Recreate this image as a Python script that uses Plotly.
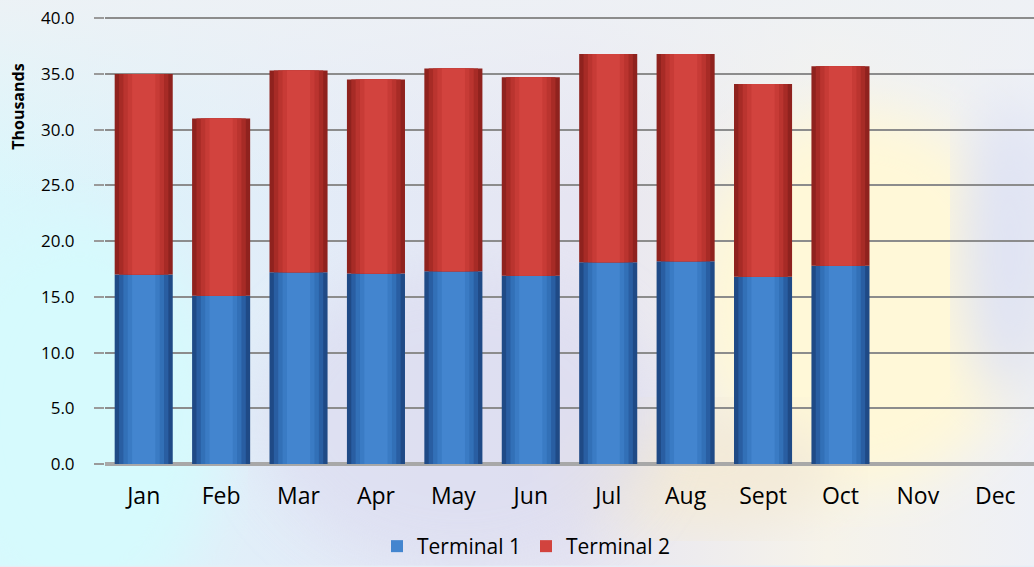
import base64
import plotly.graph_objects as go

months = ["Jan", "Feb", "Mar", "Apr", "May", "Jun", "Jul", "Aug", "Sept", "Oct", "Nov", "Dec"]
terminal_1 = [17.0, 15.1, 17.2, 17.1, 17.3, 16.9, 18.1, 18.2, 16.8, 17.8, None, None]
terminal_2 = [18.0, 15.9, 18.1, 17.4, 18.2, 17.8, 18.7, 18.6, 17.3, 17.9, None, None]
y_ticks = [0, 5, 10, 15, 20, 25, 30, 35, 40]

FONT = "Open Sans"
BAR_W = 0.75

# blurred backdrop, drawn as an svg so it can carry gradients
bg_svg = """<svg xmlns='http://www.w3.org/2000/svg' width='1034' height='567'>
<defs>
<linearGradient id='g' x1='0' y1='0' x2='1' y2='0'>
<stop offset='0' stop-color='#d9f7fc'/><stop offset='0.3' stop-color='#e3ecf8'/>
<stop offset='0.55' stop-color='#e6e5f2'/><stop offset='0.8' stop-color='#f6f3ea'/>
<stop offset='1' stop-color='#eef0f6'/></linearGradient>
<linearGradient id='t' x1='0' y1='0' x2='0' y2='1'>
<stop offset='0' stop-color='#eef1f5' stop-opacity='0.9'/>
<stop offset='0.35' stop-color='#eef1f5' stop-opacity='0'/></linearGradient>
<filter id='b'><feGaussianBlur stdDeviation='28'/></filter>
</defs>
<rect width='1034' height='567' fill='url(#g)'/>
<rect width='1034' height='567' fill='url(#t)'/>
<ellipse cx='860' cy='300' rx='170' ry='190' fill='#fff8d8' filter='url(#b)'/>
<ellipse cx='700' cy='470' rx='140' ry='60' fill='#f3ead8' filter='url(#b)'/>
<ellipse cx='1010' cy='250' rx='50' ry='150' fill='#dfe3f4' filter='url(#b)'/>
<ellipse cx='460' cy='420' rx='200' ry='150' fill='#dcdcf0' filter='url(#b)' opacity='0.7'/>
<ellipse cx='80' cy='420' rx='140' ry='200' fill='#d6fafd' filter='url(#b)'/>
</svg>"""
bg_uri = "data:image/svg+xml;base64," + base64.b64encode(bg_svg.encode()).decode()


def cylinder(fig, name, values, base, shades):
    # stacked stripes give the rounded, shaded look of the original bars
    n = len(shades)
    for i, col in enumerate(shades):
        fig.add_trace(go.Bar(
            x=months, y=values, base=base, name=name,
            width=BAR_W * (1 - 0.75 * i / n),
            marker=dict(color=col, line=dict(width=0)),
            showlegend=(i == n - 1), legendgroup=name,
            hoverinfo="skip" if i < n - 1 else None,
        ))


stack_base = [0 if v is not None else None for v in terminal_1]
fig = go.Figure()
cylinder(fig, "Terminal 1", terminal_1, stack_base,
         ["#1f4a86", "#295ea2", "#3270b7", "#3a7bc4", "#4385cf"])
cylinder(fig, "Terminal 2", terminal_2, terminal_1,
         ["#8f221e", "#a72b26", "#ba342f", "#c73b36", "#d2433e"])

fig.update_layout(
    barmode="overlay",
    width=1034, height=567,
    margin=dict(l=105, r=0, t=16, b=102),
    paper_bgcolor="#e6eef6",
    plot_bgcolor="rgba(0,0,0,0)",
    font=dict(family=FONT, color="#000000"),
    images=[dict(source=bg_uri, xref="paper", yref="paper", x=-105 / 929, y=1 + 16 / 449,
                 sizex=1034 / 929, sizey=567 / 449, sizing="stretch", layer="below",
                 xanchor="left", yanchor="top")],
    legend=dict(orientation="h", x=(526 - 105) / 929, xanchor="center",
                y=(465 - 548) / 449, yanchor="middle", traceorder="normal",
                font=dict(size=21, family=FONT), itemwidth=30, bgcolor="rgba(0,0,0,0)"),
    showlegend=True,
    annotations=[dict(text="<b>Thousands</b>", textangle=-90, xref="paper", yref="paper",
                      x=-87 / 929, y=(465 - 107) / 449, xanchor="center", yanchor="middle",
                      showarrow=False, font=dict(size=16, family=FONT))],
)
fig.update_xaxes(
    tickfont=dict(size=23, family=FONT), ticks="", ticklabelstandoff=16,
    showgrid=False, showline=False, zeroline=False,
)
fig.update_yaxes(
    range=[0, 40.2], tickvals=y_ticks, tickformat=".1f",
    tickfont=dict(size=17, family=FONT),
    ticks="outside", ticklen=10, tickcolor="#9a9a9a", tickwidth=1.5,
    ticklabelstandoff=16,
    showgrid=True, gridcolor="#8c8c8c", gridwidth=1.5,
    zeroline=True, zerolinecolor="#a8a8a8", zerolinewidth=4,
)

fig.write_html("out.html", config={"displayModeBar": False},
               post_script="document.body.style.margin='0';")
